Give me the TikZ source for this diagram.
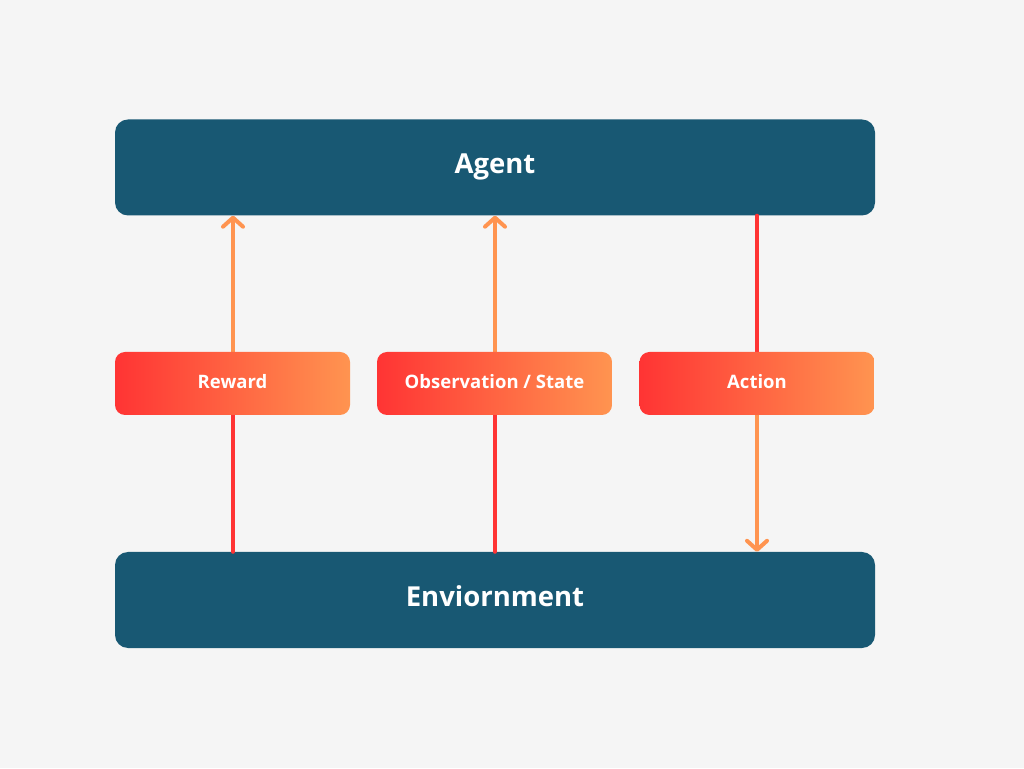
\documentclass[tikz,border=0pt]{standalone}
\usepackage{fontspec}
\setmainfont{Open Sans}
\usetikzlibrary{arrows.meta}
\definecolor{bg}{HTML}{F5F5F5}
\definecolor{deepblue}{HTML}{185873}
\definecolor{hotred}{HTML}{FF3434}
\definecolor{softorange}{HTML}{FF9450}
\tikzset{
	block/.style={fill=deepblue,rounded corners=13pt,minimum width=760pt,minimum height=96pt,text depth=7pt,text=white,font=\fontsize{27.5}{32}\selectfont\bfseries},
	tag/.style={left color=hotred,right color=softorange,rounded corners=10pt,minimum width=235pt,minimum height=63pt,text depth=5pt,text=white,font=\fontsize{18.5}{22}\selectfont\bfseries},
	flow/.style={line width=4pt,line cap=round},
	tip/.style={-{Straight Barb[length=9pt,width=20pt,line cap=round,line join=round]}}
}
\begin{document}
		\begin{tikzpicture}[x=1pt,y=1pt]
			\fill[bg] (0,0) rectangle (1024,768);
			\useasboundingbox (0,0) rectangle (1024,768);
			% the two blocks
			\node[block] (agent) at (495,600.5) {Agent};
			\node[block] (env) at (495,168) {Enviornment};
			% connectors, drawn first so the tags cover them
			\coordinate (rw) at (233,384);
			\coordinate (ob) at (495,384);
			\coordinate (ac) at (757,384);
			\draw[flow,hotred] (env.north -| rw) -- (rw);
			\draw[flow,softorange,tip] (rw) -- (agent.south -| rw);
			\draw[flow,hotred] (env.north -| ob) -- (ob);
			\draw[flow,softorange,tip] (ob) -- (agent.south -| ob);
			\draw[flow,hotred] (agent.south -| ac) -- (ac);
			\draw[flow,softorange,tip] (ac) -- (env.north -| ac);
			% tags
			\node[tag] (reward) at (232.5,384.5) {Reward};
			\node[tag] (obs) at (494.5,384.5) {Observation / State};
			\node[tag] (action) at (757,384.5) {Action};
		\end{tikzpicture}
\end{document}
